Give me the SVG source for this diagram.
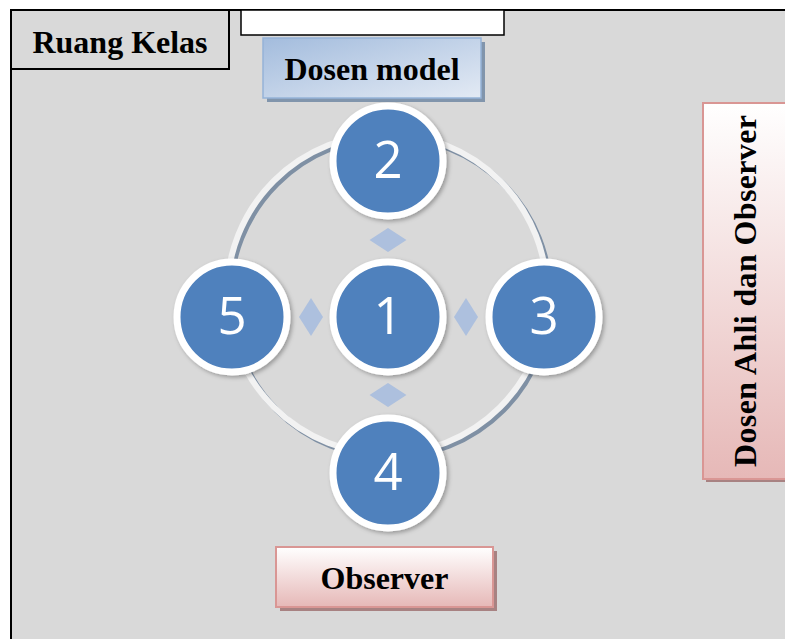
<svg xmlns="http://www.w3.org/2000/svg" width="785" height="639" viewBox="0 0 785 639">
<defs>
<style>
.lbl{font-family:"Liberation Serif","Times New Roman",serif;font-weight:bold;font-size:32px;fill:#000;text-anchor:middle}
.num{font-family:"Open Sans","Liberation Sans",sans-serif;font-size:51px;fill:#fff;text-anchor:middle}
.node{fill:#4f81bd;stroke:#fff;stroke-width:7;filter:url(#sh)}
.dia{fill:#adc0de}
</style>
<linearGradient id="gBlue" x1="0" y1="0" x2="1" y2="1">
<stop offset="0" stop-color="#a3bcdd"/>
<stop offset="1" stop-color="#e3eaf4"/>
</linearGradient>
<linearGradient id="gPink" x1="0" y1="0" x2="0" y2="1">
<stop offset="0" stop-color="#ffffff"/>
<stop offset="1" stop-color="#e6b8b7"/>
</linearGradient>
<filter id="sh" x="-20%" y="-20%" width="140%" height="140%">
<feDropShadow dx="2" dy="2" stdDeviation="2" flood-color="#000" flood-opacity="0.3"/>
</filter>
</defs>
<rect x="0" y="0" width="785" height="639" fill="#fff"/>
<g id="frame">
<rect x="11" y="10" width="790" height="640" fill="#d9d9d9" stroke="#000" stroke-width="2"/>
</g>
<g id="ruang-kelas">
<rect x="11" y="10" width="218" height="59" fill="#d9d9d9" stroke="#000" stroke-width="2"/>
<text class="lbl" x="120" y="53">Ruang Kelas</text>
</g>
<g id="blank-box">
<rect x="241" y="10" width="263" height="25" fill="#fff" stroke="#000" stroke-width="1.5"/>
</g>
<g id="dosen-model">
<rect x="267" y="42" width="218" height="60" fill="#8195ac"/>
<rect x="263" y="38" width="218" height="60" fill="url(#gBlue)" stroke="#95b3d7" stroke-width="1.5"/>
<text class="lbl" x="372" y="80">Dosen model</text>
</g>
<g id="dosen-ahli">
<rect x="706" y="106" width="90" height="376" fill="#a88282"/>
<rect x="703" y="103" width="90" height="376" fill="url(#gPink)" stroke="#d99694" stroke-width="2"/>
<text class="lbl" transform="translate(756,291) rotate(-90)" x="0" y="0" textLength="352" lengthAdjust="spacing">Dosen Ahli dan Observer</text>
</g>
<g id="observer">
<rect x="280" y="551" width="217" height="60" fill="#a88282"/>
<rect x="276" y="547" width="217" height="60" fill="url(#gPink)" stroke="#d99694" stroke-width="2"/>
<text class="lbl" x="384.5" y="589">Observer</text>
</g>
<g id="connectors">
<circle cx="390" cy="297" r="160" fill="none" stroke="#7f90a4" stroke-width="6"/>
<circle cx="387" cy="294" r="160" fill="none" stroke="#f2f2f2" stroke-width="6"/>
<polygon class="dia" points="369.5,240 388,228 406.5,240 388,252"/>
<polygon class="dia" points="369.5,395 388,383 406.5,395 388,407"/>
<polygon class="dia" points="299,317 311,298 323,317 311,336"/>
<polygon class="dia" points="454,317 466,298 478,317 466,336"/>
</g>
<g id="node-1"><circle class="node" cx="388" cy="317" r="55"/><text class="num" x="388" y="334">1</text></g>
<g id="node-2"><circle class="node" cx="388" cy="161" r="55"/><text class="num" x="388" y="178">2</text></g>
<g id="node-3"><circle class="node" cx="544" cy="317" r="55"/><text class="num" x="544" y="334">3</text></g>
<g id="node-4"><circle class="node" cx="388" cy="473" r="55"/><text class="num" x="388" y="490">4</text></g>
<g id="node-5"><circle class="node" cx="232" cy="317" r="55"/><text class="num" x="232" y="334">5</text></g>
</svg>
